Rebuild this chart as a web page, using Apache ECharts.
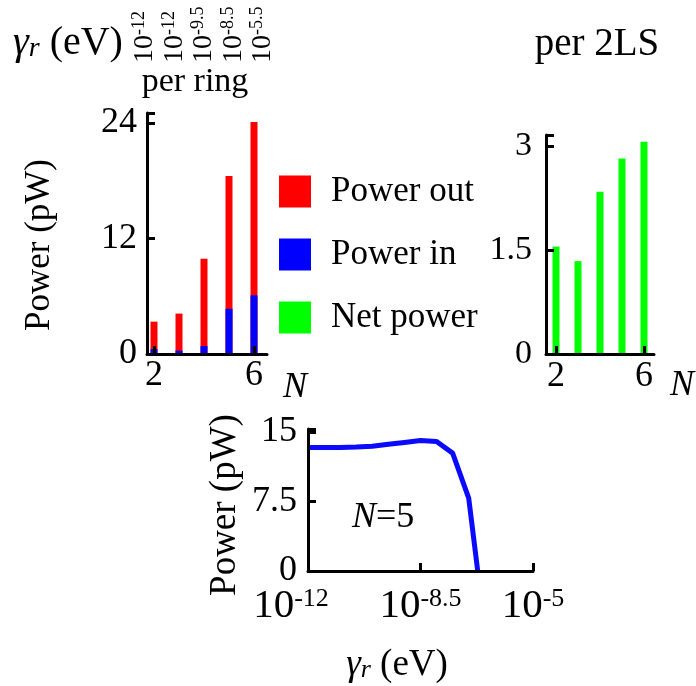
<!DOCTYPE html>
<html><head><meta charset="utf-8">
<script src="https://cdn.jsdelivr.net/npm/echarts@6/dist/echarts.min.js"></script>
<style>html,body{margin:0;padding:0;background:#fff}#c{width:696px;height:686px}</style>
</head><body><div id="c"></div>
<script>
// ---- data ----
const N = [2, 3, 4, 5, 6];
const powerOut = [3.36, 4.2, 9.9, 18.5, 24.1];
const powerIn = [0.5, 0.35, 0.83, 4.7, 6.1];
const netPower = [1.55, 1.34, 2.34, 2.82, 3.06];
const gammaExpLabels = ['-12', '-12', '-9.5', '-8.5', '-5.5'];
const logGamma = [-12, -11.5, -11, -10.5, -10, -9.5, -9, -8.5, -8, -7.5, -7, -6.72];
const powerN5 = [13.3, 13.3, 13.3, 13.35, 13.45, 13.65, 13.85, 14.05, 13.95, 12.7, 7.85, 0];
const xTicksN = [2, 6];
const xTicksGamma = [-12, -8.5, -5];
const xTickLabelsGamma = ['-12', '-8.5', '-5'];

const FF = "'Liberation Serif','Times New Roman',serif";
const chart = echarts.init(document.getElementById('c'), null, {renderer: 'canvas'});

const axisLine = {show: true, lineStyle: {color: '#000', width: 3}};
const axisTick = {show: true, inside: true, length: 8, lineStyle: {color: '#000', width: 3}};

function yAxis(gridIndex, max, interval, margin, fs) {
  return {
    type: 'value', gridIndex, min: 0, max, interval, z: 5,
    axisLine, axisTick, splitLine: {show: false},
    axisLabel: {color: '#000', fontFamily: FF, fontSize: fs, margin,
      formatter: v => (Math.abs(v - max) < 1e-9 && v % interval !== 0) ? '' : String(v)}
  };
}

const option = {
  animation: false,
  backgroundColor: '#fff',
  textStyle: {fontFamily: FF},
  grid: [
    {left: 147, top: 113, width: 120, height: 241},
    {left: 546, top: 135, width: 108, height: 219},
    {left: 308, top: 429, width: 225, height: 142},
    {left: 130, top: 65, width: 147.5, height: 10}
  ],
  legend: {
    orient: 'vertical', left: 279, top: 174, padding: 0,
    itemWidth: 32, itemHeight: 32, itemGap: 28, icon: 'rect',
    data: ['Power out', 'Power in', 'Net power'],
    textStyle: {fontFamily: FF, fontSize: 35, color: '#000', padding: [0, 0, 0, 15]}
  },
  xAxis: [
    {type: 'value', gridIndex: 0, min: 1.72, max: 6.52, z: 5, axisLine,
      axisTick: Object.assign({customValues: xTicksN}, axisTick), splitLine: {show: false},
      axisLabel: {customValues: xTicksN, color: '#000', fontFamily: FF, fontSize: 36, margin: 4}},
    {type: 'value', gridIndex: 1, min: 1.545, max: 6.455, z: 5, axisLine,
      axisTick: Object.assign({customValues: xTicksN}, axisTick), splitLine: {show: false},
      axisLabel: {customValues: xTicksN, color: '#000', fontFamily: FF, fontSize: 36, margin: 5}},
    {type: 'value', gridIndex: 2, min: -12, max: -5, z: 5, axisLine,
      axisTick: Object.assign({customValues: xTicksGamma}, axisTick), splitLine: {show: false},
      axisLabel: {customValues: xTicksGamma, color: '#000', fontFamily: FF, margin: 15,
        formatter: v => {
          const i = xTicksGamma.indexOf(v);
          const s = '{b|10}{s|' + xTickLabelsGamma[i] + '}';
          return i === 0 ? s + '{p| }' : s;
        },
        rich: {
          b: {fontFamily: FF, fontSize: 41, color: '#000'},
          s: {fontFamily: FF, fontSize: 26, color: '#000', verticalAlign: 'top'},
          p: {fontSize: 10, width: 34}
        }}},
    {type: 'category', gridIndex: 3, position: 'top', data: gammaExpLabels,
      axisLine: {show: false}, axisTick: {show: false},
      axisLabel: {rotate: 90, margin: 2, interval: 0,
        formatter: v => '{b|10}{s|' + v + '}',
        rich: {
          b: {fontFamily: FF, fontSize: 28, color: '#000'},
          s: {fontFamily: FF, fontSize: 18, color: '#000', verticalAlign: 'top'}
        }}}
  ],
  yAxis: [
    yAxis(0, 25.04, 12, 10, 36),
    yAxis(1, 3.159, 1.5, 14, 34),
    yAxis(2, 15.3, 7.5, 11, 36),
    {type: 'value', gridIndex: 3, show: false}
  ],
  series: [
    {name: 'Power out', type: 'bar', xAxisIndex: 0, yAxisIndex: 0, barWidth: 7, barGap: '-100%',
      itemStyle: {color: '#ff0000'}, data: N.map((n, i) => [n, powerOut[i]])},
    {name: 'Power in', type: 'bar', xAxisIndex: 0, yAxisIndex: 0, barWidth: 7, barGap: '-100%',
      itemStyle: {color: '#0000ff'}, data: N.map((n, i) => [n, powerIn[i]])},
    {name: 'Net power', type: 'bar', xAxisIndex: 1, yAxisIndex: 1, barWidth: 7,
      itemStyle: {color: '#00ff00'}, data: N.map((n, i) => [n, netPower[i]])},
    {name: 'N=5', type: 'line', xAxisIndex: 2, yAxisIndex: 2, symbol: 'none',
      lineStyle: {color: '#0a0aff', width: 5}, itemStyle: {color: '#0a0aff'},
      data: logGamma.map((g, i) => [g, powerN5[i]])}
  ],
  graphic: [
    {type: 'text', left: 13, top: 23, style: {
      text: '{g|γ}{r|r}{t| (eV)}', fill: '#000',
      rich: {g: {fontFamily: FF, fontStyle: 'italic', fontSize: 40},
             r: {fontFamily: FF, fontStyle: 'italic', fontSize: 28, verticalAlign: 'bottom'},
             t: {fontFamily: FF, fontSize: 40}}}},
    {type: 'text', x: 195, y: 82, style: {text: 'per ring', fontFamily: FF, fontSize: 34, fill: '#000', align: 'center', verticalAlign: 'middle'}},
    {type: 'text', x: 597, y: 45, style: {text: 'per 2LS', fontFamily: FF, fontSize: 39, fill: '#000', align: 'center', verticalAlign: 'middle'}},
    {type: 'text', x: 283, y: 388, style: {text: 'N', fontFamily: FF, fontStyle: 'italic', fontSize: 36, fill: '#000', align: 'left', verticalAlign: 'middle'}},
    {type: 'text', x: 670, y: 386, style: {text: 'N', fontFamily: FF, fontStyle: 'italic', fontSize: 36, fill: '#000', align: 'left', verticalAlign: 'middle'}},
    {type: 'text', x: 40, y: 245, rotation: Math.PI / 2, style: {text: 'Power (pW)', fontFamily: FF, fontSize: 35, fill: '#000', align: 'center', verticalAlign: 'middle'}},
    {type: 'text', x: 225, y: 505, rotation: Math.PI / 2, style: {text: 'Power (pW)', fontFamily: FF, fontSize: 37, fill: '#000', align: 'center', verticalAlign: 'middle'}},
    {type: 'text', x: 352, y: 518, style: {text: '{i|N}=5', fill: '#000', align: 'left', verticalAlign: 'middle',
      rich: {i: {fontFamily: FF, fontStyle: 'italic', fontSize: 36}}, fontFamily: FF, fontSize: 36}},
    {type: 'text', x: 397, y: 665, style: {
      text: '{g|γ}{r|r}{t| (eV)}', fill: '#000', align: 'center', verticalAlign: 'middle',
      rich: {g: {fontFamily: FF, fontStyle: 'italic', fontSize: 37},
             r: {fontFamily: FF, fontStyle: 'italic', fontSize: 26, verticalAlign: 'bottom'},
             t: {fontFamily: FF, fontSize: 37}}}}
  ]
};
chart.setOption(option);
</script>
</body></html>
